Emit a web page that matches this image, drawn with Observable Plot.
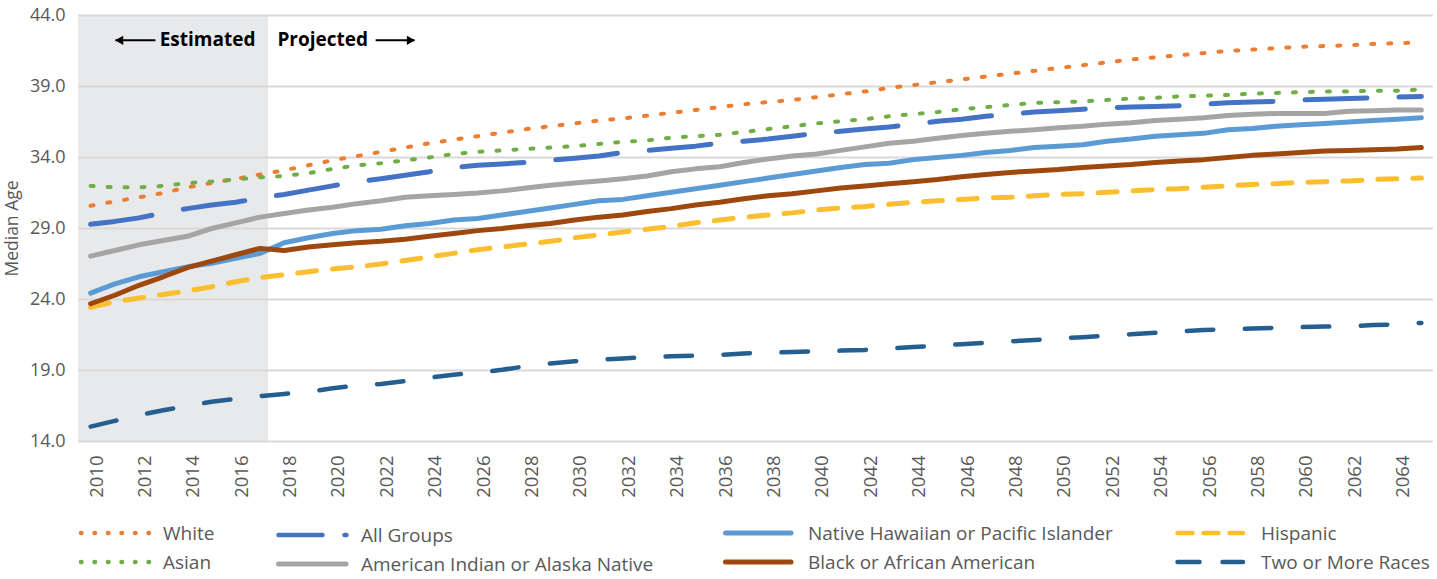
<!DOCTYPE html>
<html><head><meta charset="utf-8">
<script src="https://cdn.jsdelivr.net/npm/d3@7"></script>
<script src="https://cdn.jsdelivr.net/npm/@observablehq/plot@0.6"></script>
<style>
body{margin:0;background:#fff;font-family:"Open Sans",sans-serif;}
#chart{position:relative;width:1437px;height:579px;overflow:hidden;}
#chart svg.plot{display:block;}
.legsw{position:absolute;}
.legtx{position:absolute;font-size:19px;line-height:24px;height:24px;color:#595959;white-space:nowrap;}
</style></head><body><div id="chart"></div><script>
// ---- data ----
const years = [2010,2011,2012,2013,2014,2015,2016,2017,2018,2019,2020,2021,2022,2023,2024,2025,2026,2027,2028,2029,2030,2031,2032,2033,2034,2035,2036,2037,2038,2039,2040,2041,2042,2043,2044,2045,2046,2047,2048,2049,2050,2051,2052,2053,2054,2055,2056,2057,2058,2059,2060,2061,2062,2063,2064,2065];
const white = [30.6,30.9,31.2,31.5,31.9,32.2,32.5,32.8,33.1,33.45,33.8,34.1,34.4,34.7,35.0,35.25,35.5,35.75,36.0,36.2,36.4,36.6,36.75,36.95,37.15,37.35,37.55,37.75,37.9,38.05,38.25,38.45,38.65,38.9,39.1,39.3,39.5,39.7,39.9,40.1,40.3,40.5,40.7,40.9,41.05,41.2,41.35,41.5,41.6,41.7,41.8,41.85,41.9,42.0,42.05,42.1];
const allGroups = [29.3,29.5,29.75,30.1,30.4,30.65,30.85,31.15,31.4,31.7,32.0,32.3,32.5,32.75,33.0,33.3,33.45,33.55,33.65,33.8,33.95,34.1,34.35,34.5,34.65,34.8,35.0,35.15,35.3,35.5,35.7,35.85,36.0,36.15,36.35,36.55,36.7,36.9,37.05,37.2,37.3,37.4,37.5,37.55,37.6,37.65,37.75,37.85,37.9,37.95,38.05,38.1,38.15,38.2,38.25,38.3];
const nhpi = [24.45,25.1,25.6,25.95,26.3,26.55,26.9,27.25,28.0,28.35,28.65,28.85,28.95,29.2,29.35,29.6,29.7,29.95,30.2,30.45,30.7,30.95,31.05,31.3,31.55,31.8,32.05,32.3,32.55,32.8,33.05,33.3,33.5,33.6,33.85,34.0,34.15,34.35,34.5,34.7,34.8,34.9,35.15,35.3,35.5,35.6,35.7,35.95,36.05,36.2,36.3,36.4,36.5,36.6,36.7,36.8];
const hispanic = [23.45,23.85,24.1,24.35,24.6,24.9,25.25,25.55,25.75,25.95,26.15,26.3,26.5,26.75,27.0,27.25,27.5,27.7,27.9,28.1,28.35,28.55,28.75,28.95,29.15,29.4,29.6,29.8,29.95,30.1,30.3,30.45,30.55,30.7,30.85,30.95,31.05,31.15,31.2,31.3,31.4,31.45,31.55,31.65,31.75,31.8,31.9,32.0,32.1,32.15,32.25,32.3,32.35,32.45,32.5,32.55];
const asian = [32.0,31.9,31.9,32.0,32.2,32.3,32.45,32.6,32.7,32.9,33.2,33.45,33.6,33.8,34.0,34.25,34.4,34.5,34.6,34.7,34.8,34.95,35.1,35.2,35.4,35.5,35.6,35.8,36.0,36.2,36.4,36.55,36.7,36.9,37.05,37.2,37.4,37.55,37.7,37.85,37.9,37.95,38.05,38.15,38.2,38.3,38.35,38.4,38.5,38.55,38.6,38.65,38.65,38.7,38.7,38.8];
const aian = [27.05,27.45,27.85,28.15,28.45,29.0,29.4,29.8,30.05,30.3,30.5,30.75,30.95,31.2,31.3,31.4,31.5,31.65,31.85,32.05,32.2,32.35,32.5,32.7,33.0,33.2,33.35,33.65,33.9,34.1,34.25,34.5,34.75,35.0,35.15,35.35,35.55,35.7,35.85,35.95,36.1,36.2,36.35,36.45,36.6,36.7,36.8,36.95,37.05,37.1,37.1,37.1,37.25,37.3,37.35,37.35];
const black = [23.7,24.3,25.0,25.6,26.25,26.7,27.15,27.6,27.45,27.7,27.85,28.0,28.1,28.25,28.45,28.65,28.85,29.0,29.2,29.35,29.6,29.8,29.95,30.2,30.4,30.65,30.85,31.1,31.3,31.45,31.65,31.85,32.0,32.15,32.3,32.45,32.65,32.8,32.95,33.05,33.15,33.3,33.4,33.5,33.65,33.75,33.85,34.0,34.15,34.25,34.35,34.45,34.5,34.55,34.6,34.7];
const twoPlus = [15.05,15.45,15.85,16.2,16.5,16.8,17.0,17.2,17.35,17.5,17.75,17.95,18.05,18.25,18.5,18.7,18.85,19.05,19.3,19.5,19.65,19.75,19.85,19.95,20.0,20.05,20.1,20.2,20.25,20.3,20.35,20.4,20.45,20.55,20.65,20.75,20.85,20.95,21.05,21.15,21.25,21.35,21.45,21.55,21.65,21.75,21.85,21.9,21.95,22.0,22.05,22.1,22.1,22.2,22.25,22.35];

const seriesNames = ["White","All Groups","Native Hawaiian or Pacific Islander","Hispanic","Asian","American Indian or Alaska Native","Black or African American","Two or More Races"];
const seriesValues = [white, allGroups, nhpi, hispanic, asian, aian, black, twoPlus];
const seriesColors = ["#ED7D31","#4472C4","#5B9BD5","#FBBE2E","#70AD47","#A5A5A5","#9E480E","#255E91"];

const xTicks = [2010,2012,2014,2016,2018,2020,2022,2024,2026,2028,2030,2032,2034,2036,2038,2040,2042,2044,2046,2048,2050,2052,2054,2056,2058,2060,2062,2064];
const yTicks = [14,19,24,29,34,39,44];
const yLabel = "Median Age";
const estimatedLabel = "Estimated";
const projectedLabel = "Projected";
const estimatedEnd = 2017.35;

// ---- styles ----
const lineStyles = [
  {w:4, dash:"3,14"},
  {w:5, dash:"62,32"},
  {w:5, dash:null},
  {w:5, dash:"19,16"},
  {w:4, dash:"3,14"},
  {w:5, dash:null},
  {w:5, dash:null},
  {w:4.5, dash:"26.5,31.5"}
];
const legendStyles = [
  {w:4.5, dash:"0.5,13", x1:3, x2:72},
  {w:4.5, dash:"44,22", x1:2.5, x2:70.5},
  {w:5, dash:null, x1:2.5, x2:68},
  {w:4.5, dash:"15,11", x1:2.5, x2:68},
  {w:4.5, dash:"0.5,13", x1:3, x2:72},
  {w:5, dash:null, x1:2.5, x2:70},
  {w:5, dash:null, x1:2.5, x2:68},
  {w:4.5, dash:"22,23", x1:2.5, x2:68}
];

const rows = [];
seriesNames.forEach((name, i) => {
  years.forEach((yr, j) => rows.push({series: name, year: yr, value: seriesValues[i][j]}));
});

const lineMarks = seriesNames.map((name, i) => Plot.line(rows.filter(r => r.series === name), {
  x: "year", y: "value",
  stroke: seriesColors[i],
  strokeWidth: lineStyles[i].w,
  strokeDasharray: lineStyles[i].dash || undefined,
  strokeLinecap: "round",
  strokeLinejoin: "round"
}));

const arrows = [
  {tail: 2012.68, tip: 2011.03, y: 42.25, dir: -1},
  {tail: 2021.78, tip: 2023.39, y: 42.25, dir: 1}
];

const plot = Plot.plot({
  width: 1437, height: 510,
  marginLeft: 78, marginRight: 4, marginTop: 15, marginBottom: 69,
  style: {fontFamily: "'Open Sans', sans-serif", fontSize: "18px", color: "#595959", background: "#fff", overflow: "visible"},
  x: {domain: [2009.5, 2065.5]},
  y: {domain: [14, 44]},
  marks: [
    Plot.rect([{x1: 2009.5, x2: estimatedEnd}], {x1: "x1", x2: "x2", y1: 14, y2: 44, fill: "#E8E9EB"}),
    Plot.ruleY(yTicks, {stroke: "#D9D9D9", strokeWidth: 2}),
    Plot.axisY({ticks: yTicks, tickSize: 0, tickPadding: 13, tickFormat: d => d.toFixed(1), label: null, fill: "#595959", fontSize: 18}),
    Plot.axisX({ticks: xTicks, tickSize: 0, tickPadding: 14, tickRotate: -90, tickFormat: d => String(d), label: null, fill: "#595959", fontSize: 18.5, dx: 6}),
    Plot.text([yLabel], {text: d => d, frameAnchor: "left", textAnchor: "middle", rotate: -90, dx: -66, fill: "#595959", fontSize: 17.5}),
    ...lineMarks,
    Plot.text([estimatedLabel], {text: d => d, x: estimatedEnd, y: 42.25, dx: -13, textAnchor: "end", fill: "#000", fontSize: 19, fontWeight: "bold"}),
    Plot.text([projectedLabel], {text: d => d, x: estimatedEnd, y: 42.25, dx: 9, textAnchor: "start", fill: "#000", fontSize: 19, fontWeight: "bold"}),
    Plot.link(arrows, {x1: "tail", x2: "tip", y1: "y", y2: "y", stroke: "#000", strokeWidth: 2}),
    Plot.dot(arrows.filter(a => a.dir < 0), {x: "tip", y: "y", symbol: "triangle", r: 3.5, fill: "#000", rotate: -90, dx: 5}),
    Plot.dot(arrows.filter(a => a.dir > 0), {x: "tip", y: "y", symbol: "triangle", r: 3.5, fill: "#000", rotate: 90, dx: -5})
  ]
});

const chart = document.getElementById("chart");
chart.appendChild(plot);

// ---- legend (HTML below the SVG) ----
const colSwatchX = [78, 276, 723, 1175];
const colTextX = [163, 361, 808, 1261];
const colDy = [0, 2.5, 0, 0];
const rowY = [532.5, 561.5];
const ns = "http://www.w3.org/2000/svg";
seriesNames.forEach((name, i) => {
  const col = i % 4, row = Math.floor(i / 4);
  const cy = rowY[row] + colDy[col];
  const st = legendStyles[i];
  const svg = document.createElementNS(ns, "svg");
  svg.setAttribute("class", "legsw");
  svg.setAttribute("width", 76); svg.setAttribute("height", 12);
  svg.style.left = colSwatchX[col] + "px";
  svg.style.top = (cy - 6) + "px";
  const ln = document.createElementNS(ns, "line");
  ln.setAttribute("x1", st.x1); ln.setAttribute("x2", st.x2);
  ln.setAttribute("y1", 6); ln.setAttribute("y2", 6);
  ln.setAttribute("stroke", seriesColors[i]);
  ln.setAttribute("stroke-width", st.w);
  ln.setAttribute("stroke-linecap", "round");
  if (st.dash) ln.setAttribute("stroke-dasharray", st.dash);
  svg.appendChild(ln);
  chart.appendChild(svg);
  const tx = document.createElement("div");
  tx.className = "legtx";
  tx.textContent = name;
  tx.style.left = colTextX[col] + "px";
  tx.style.top = (cy - 12) + "px";
  chart.appendChild(tx);
});
</script></body></html>
